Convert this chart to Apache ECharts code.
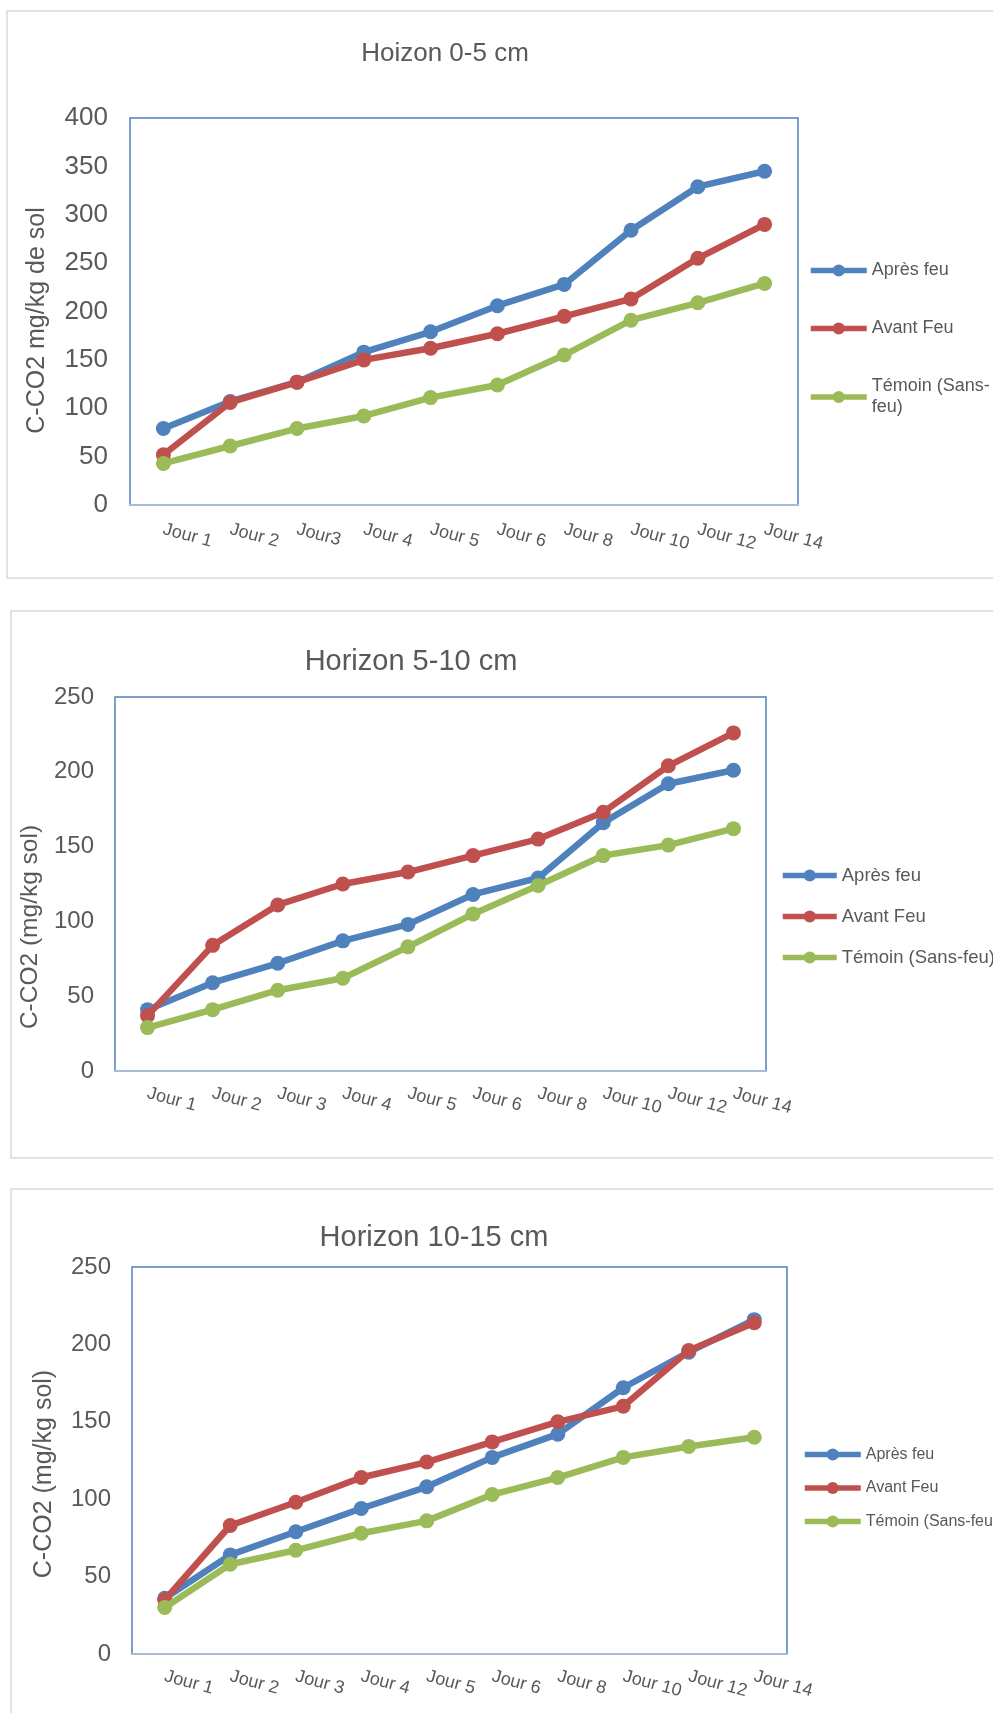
<!DOCTYPE html>
<html>
<head>
<meta charset="utf-8">
<script src="https://cdn.jsdelivr.net/npm/echarts@6/dist/echarts.min.js"></script>
<style>
html,body{margin:0;padding:0;background:#fff;}
#c{width:993px;height:1713px;}
</style>
</head>
<body>
<div id="c"></div>
<script>
// ---- Data ----
const seriesNames = ['Après feu', 'Avant Feu', 'Témoin (Sans-feu)'];
const titles = ['Hoizon 0-5 cm', 'Horizon 5-10 cm', 'Horizon 10-15 cm'];
const yNames = ['C-CO2 mg/kg de sol', 'C-CO2 (mg/kg sol)', 'C-CO2 (mg/kg sol)'];

const cats1 = ['Jour 1','Jour 2','Jour3','Jour 4','Jour 5','Jour 6','Jour 8','Jour 10','Jour 12','Jour 14'];
const cats2 = ['Jour 1','Jour 2','Jour 3','Jour 4','Jour 5','Jour 6','Jour 8','Jour 10','Jour 12','Jour 14'];
const cats3 = ['Jour 1','Jour 2','Jour 3','Jour 4','Jour 5','Jour 6','Jour 8','Jour 10','Jour 12','Jour 14'];

const apres1  = [79, 107, 127, 158, 179, 206, 228, 284, 329, 345];
const avant1  = [52, 106, 127, 150, 162, 177, 195, 213, 255, 290];
const temoin1 = [43, 61, 79, 92, 111, 124, 155, 191, 209, 229];

const apres2  = [41, 59, 72, 87, 98, 118, 129, 166, 192, 201];
const avant2  = [37, 84, 111, 125, 133, 144, 155, 173, 204, 226];
const temoin2 = [29, 41, 54, 62, 83, 105, 124, 144, 151, 162];

const apres3  = [36, 64, 79, 94, 108, 127, 142, 172, 195, 216];
const avant3  = [35, 83, 98, 114, 124, 137, 150, 160, 196, 214];
const temoin3 = [30, 58, 67, 78, 86, 103, 114, 127, 134, 140];

const yMax = [400, 250, 250];
const yInterval = [50, 50, 50];

// ---- Styling / layout ----
const colors = ['#4f81bd', '#c0504d', '#9bbb59'];
const FONT = "'Liberation Sans', Arial, sans-serif";
const TXT = '#595959';

const layout = [
  {grid:{left:130, top:118, width:668, height:387}, title:{cx:440, top:36, size:26},
   yLabSize:26, yLabMargin:22, nameSize:25, nameGap:80, namePad:18,
   xLabSize:18, xLabMargin:24,
   legend:{left:808, top:260, itemWidth:56, gap:37, size:18, lh:21}},
  {grid:{left:115, top:697, width:651, height:374}, title:{cx:406, top:642, size:29},
   yLabSize:24, yLabMargin:21, nameSize:24.5, nameGap:59, namePad:86,
   xLabSize:18, xLabMargin:22,
   legend:{left:780, top:865, itemWidth:54, gap:20, size:18.5, lh:21}},
  {grid:{left:132, top:1267, width:655, height:387}, title:{cx:429, top:1218, size:29},
   yLabSize:24, yLabMargin:21, nameSize:25, nameGap:75, namePad:27,
   xLabSize:18, xLabMargin:22,
   legend:{left:802, top:1445, itemWidth:56, gap:14.5, size:16, lh:19}}
];

const cats = [cats1, cats2, cats3];
const data = [[apres1, avant1, temoin1],[apres2, avant2, temoin2],[apres3, avant3, temoin3]];

const option = {
  animation: false,
  backgroundColor: '#fff',
  textStyle: {fontFamily: FONT},
  graphic: [
    {type:'rect', shape:{x:7, y:11, width:1100, height:567}, style:{fill:'none', stroke:'#d9d9d9', lineWidth:1.5}, silent:true},
    {type:'rect', shape:{x:11, y:611, width:1100, height:547}, style:{fill:'none', stroke:'#d9d9d9', lineWidth:1.5}, silent:true},
    {type:'rect', shape:{x:11, y:1189, width:1100, height:600}, style:{fill:'none', stroke:'#d9d9d9', lineWidth:1.5}, silent:true}
  ],
  title: [], legend: [], grid: [], xAxis: [], yAxis: [], series: []
};

layout.forEach((L, i) => {
  option.title.push({
    text: titles[i], left: L.title.cx, top: L.title.top, textAlign: 'center',
    textStyle: {fontFamily: FONT, fontSize: L.title.size, fontWeight: 'normal', color: TXT}
  });
  option.grid.push(Object.assign({show:true, borderColor:'#4f81bd', borderWidth:1.5, backgroundColor:'transparent', containLabel:false}, L.grid));
  option.xAxis.push({
    type:'category', gridIndex:i, data:cats[i], boundaryGap:true,
    axisLine:{show:true, lineStyle:{color:'#a9bbd6', width:2}},
    axisTick:{show:false},
    axisLabel:{rotate:-15, margin:L.xLabMargin, fontSize:L.xLabSize, color:TXT, fontFamily:FONT, interval:0},
    splitLine:{show:false}
  });
  option.yAxis.push({
    type:'value', gridIndex:i, min:0, max:yMax[i], interval:yInterval[i],
    name: yNames[i], nameLocation:'middle', nameGap:L.nameGap,
    nameTextStyle:{fontSize:L.nameSize, color:TXT, fontFamily:FONT, padding:[0, L.namePad, 0, 0]},
    axisLine:{show:false}, axisTick:{show:false},
    axisLabel:{fontSize:L.yLabSize, color:TXT, margin:L.yLabMargin, fontFamily:FONT},
    splitLine:{show:false}
  });
  option.legend.push({
    orient:'vertical', left:L.legend.left, top:L.legend.top, padding:0,
    itemWidth:L.legend.itemWidth, itemHeight:15, itemGap:L.legend.gap,
    data: seriesNames,
    lineStyle:{width:5.5},
    formatter: i === 0 ? (n => n === 'Témoin (Sans-feu)' ? 'Témoin (Sans-\nfeu)' : n) : (n => n),
    textStyle:{fontSize:L.legend.size, color:TXT, fontFamily:FONT, lineHeight:L.legend.lh},
    selectedMode:false
  });
  seriesNames.forEach((name, k) => {
    option.series.push({
      type:'line', name:name, xAxisIndex:i, yAxisIndex:i, data:data[i][k],
      symbol:'circle', symbolSize:15, showSymbol:true,
      lineStyle:{width:6.5, color:colors[k]},
      itemStyle:{color:colors[k]},
      z: 2 + k
    });
  });
});

const chart = echarts.init(document.getElementById('c'), null, {renderer:'canvas'});
chart.setOption(option);
</script>
</body>
</html>
